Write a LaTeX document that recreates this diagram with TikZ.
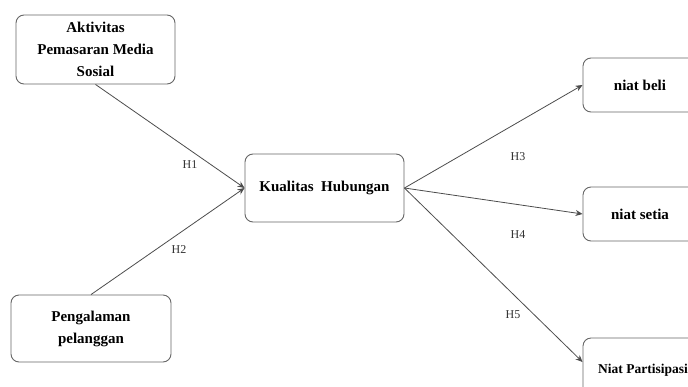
\documentclass[tikz,border=0pt]{standalone}
\usepackage{fontspec}
\setmainfont{Liberation Serif}
\usetikzlibrary{arrows.meta}
\begin{document}
\begin{tikzpicture}[x=1pt,y=-1pt,
  box/.style={draw=black!60, line width=0.9pt, rounded corners=8pt, fill=white,
    font=\bfseries\fontsize{15}{22}\selectfont, align=center, inner sep=0pt},
  conn/.style={draw=black!70, line width=0.8pt, -{Stealth[length=7pt,width=6pt]}},
  hyp/.style={font=\fontsize{12}{14}\selectfont, text=black!80}]
\useasboundingbox (0,0) rectangle (688,386);
\node[box, minimum width=159pt, minimum height=69pt] (akt) at (95.5,49.5) {Aktivitas\\Pemasaran Media\\Sosial};
\node[box, minimum width=160pt, minimum height=67pt] (peng) at (91,328.5) {Pengalaman\\pelanggan};
\node[box, minimum width=159pt, minimum height=68pt] (kual) at (324.5,188) {Kualitas\ \ Hubungan};
\node[box, minimum width=114pt, minimum height=54pt] (beli) at (640,85) {niat beli};
\node[box, minimum width=114pt, minimum height=54pt] (setia) at (640,214) {niat setia};
\node[box, minimum width=120pt, minimum height=64pt, font=\bfseries\fontsize{13.5}{16}\selectfont] (part) at (643,370) {Niat Partisipasi};
\draw[conn] (akt.south) -- (kual.west);
\draw[conn] (peng.north) -- (kual.west);
\draw[conn] (kual.east) -- (beli.west);
\draw[conn] (kual.east) -- (setia.west);
\draw[conn] (kual.east) -- ([yshift=8pt]part.west);
\node[hyp] (h1) at (190,165) {H1};
\node[hyp] (h2) at (179,250) {H2};
\node[hyp] (h3) at (518,157) {H3};
\node[hyp] (h4) at (518,235) {H4};
\node[hyp] (h5) at (513,315) {H5};
\end{tikzpicture}
\end{document}
